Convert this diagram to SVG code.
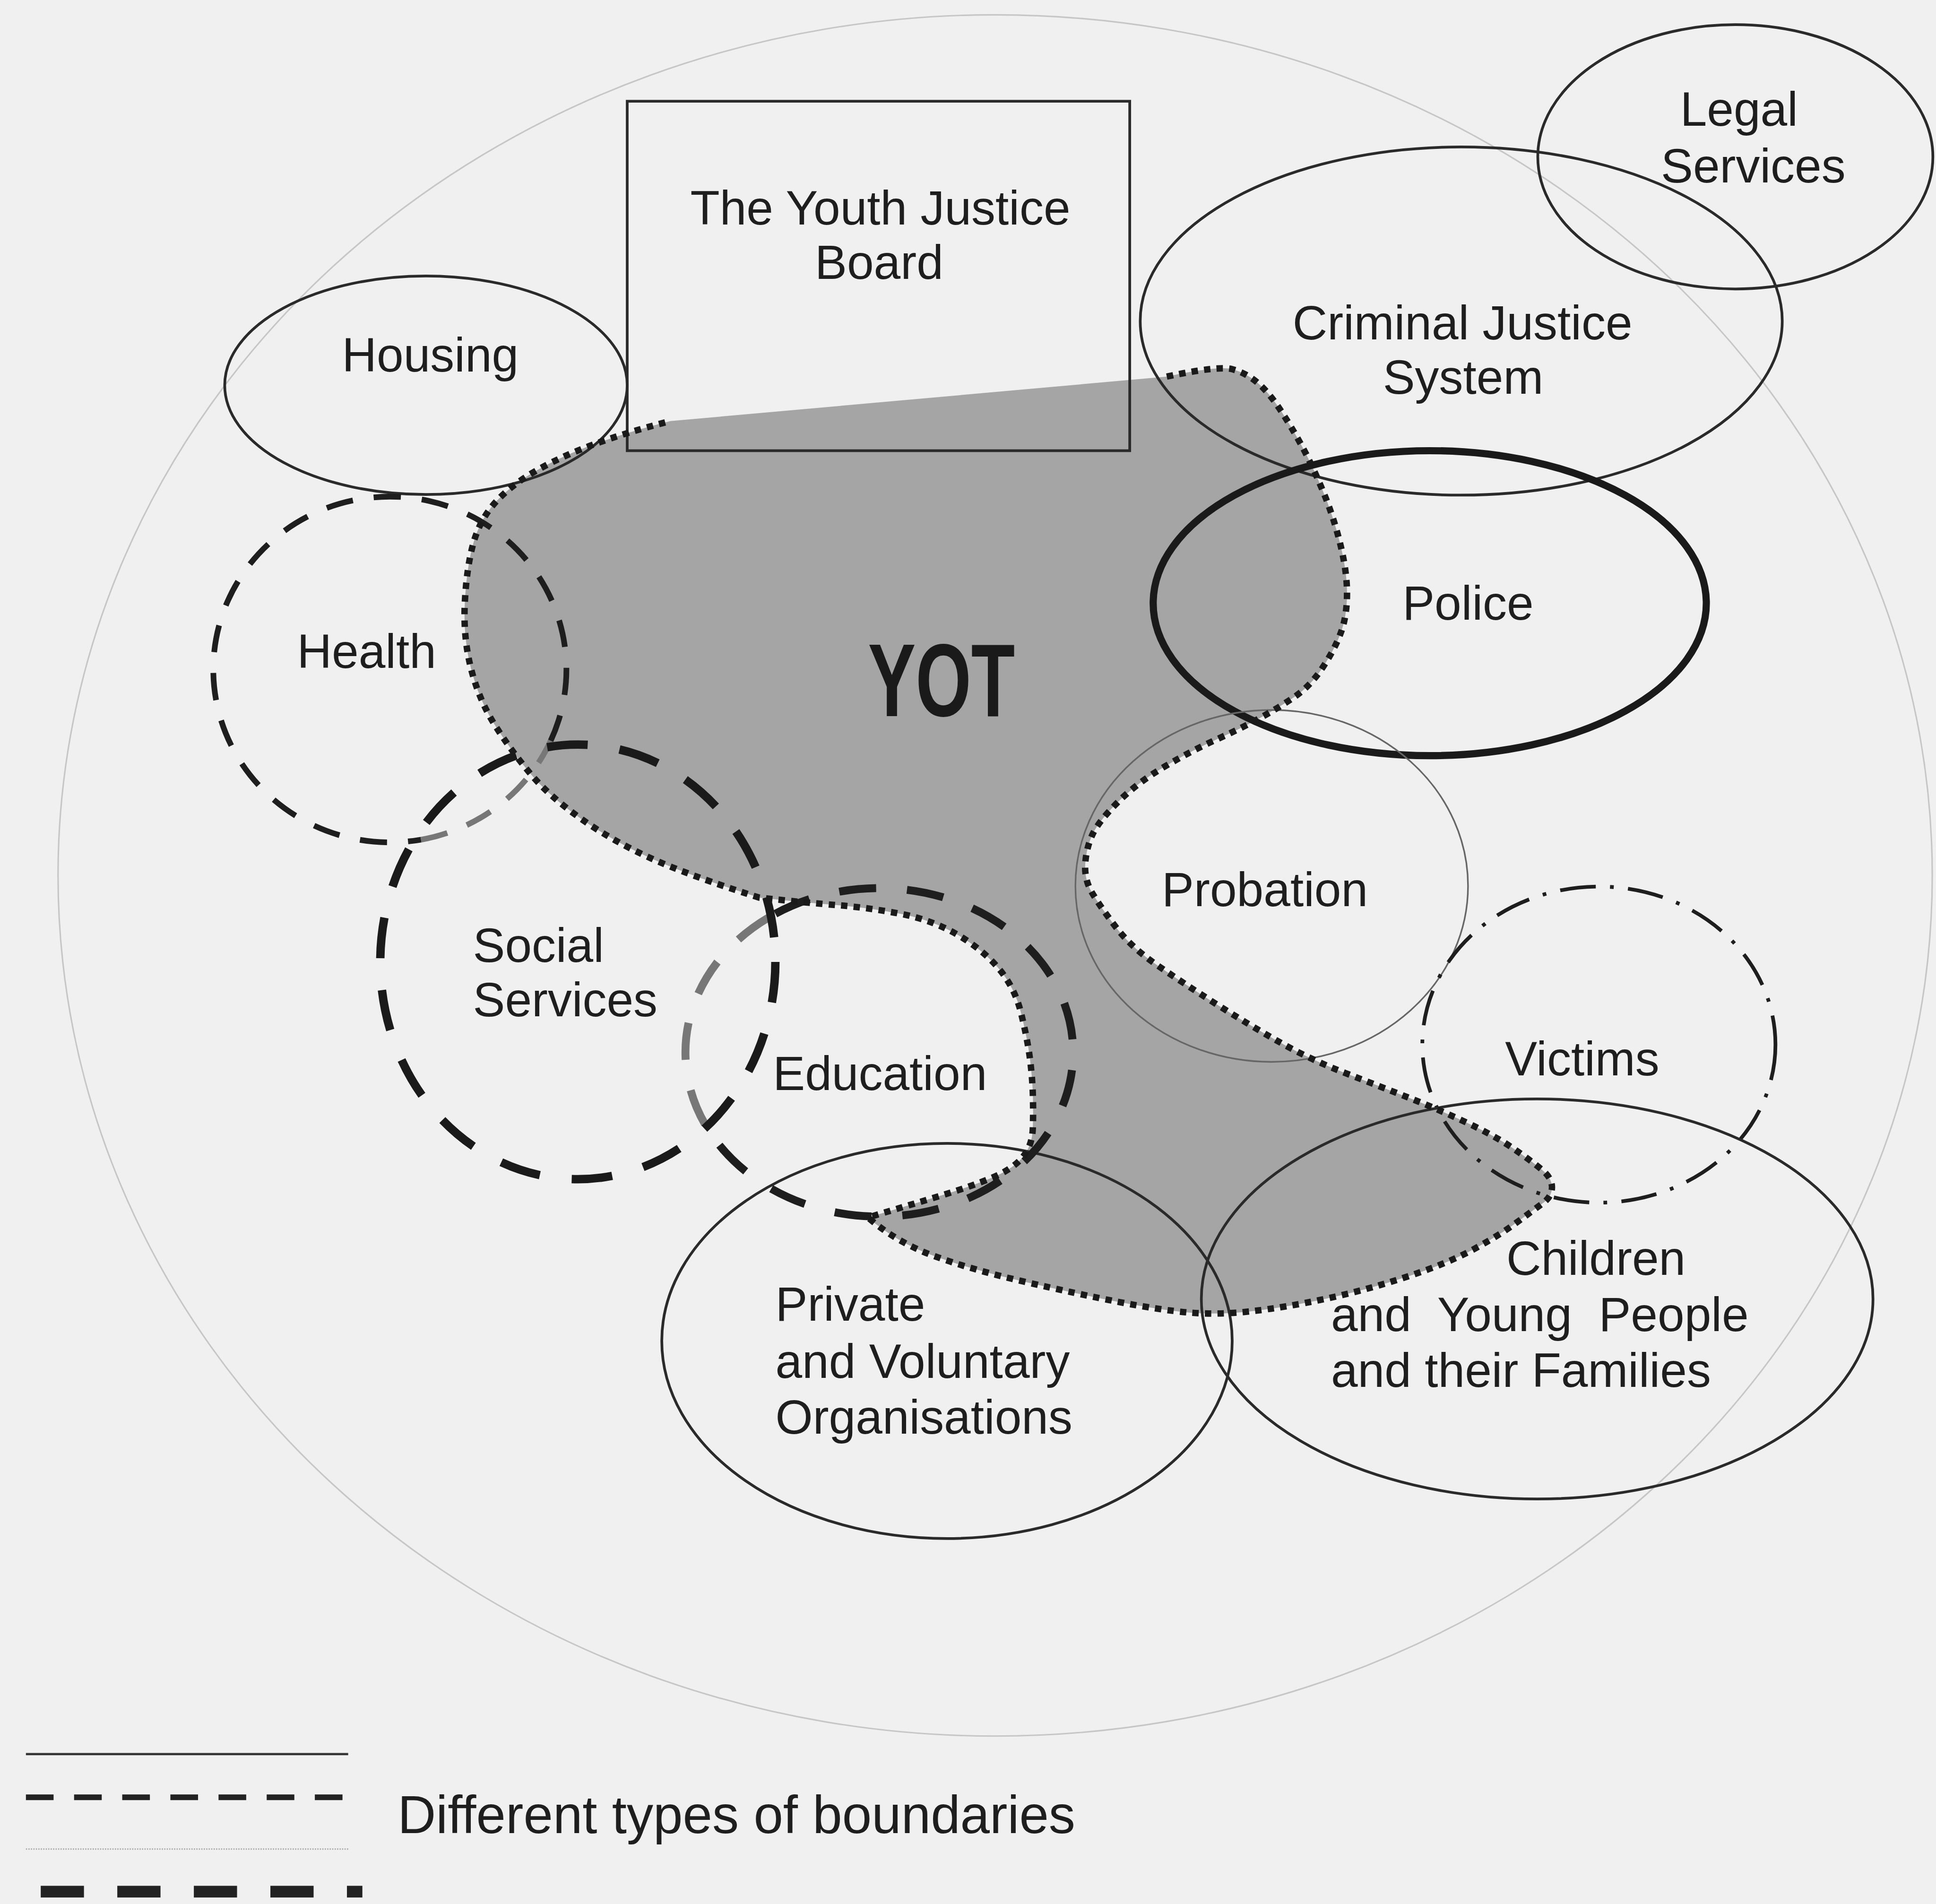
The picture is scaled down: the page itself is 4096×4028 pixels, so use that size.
<svg xmlns="http://www.w3.org/2000/svg" width="4096" height="4028" viewBox="0 0 4096 4028">
<style>
.lbl{font-family:"Liberation Sans",Arial,sans-serif;font-size:39px;fill:#1e1e1e}
.thin{fill:none;stroke:#2a2a2a;stroke-width:2.2}
.hl{fill:none;stroke:#1e1e1e;stroke-width:4.6;stroke-dasharray:22 17}
.hlg{fill:none;stroke:#777;stroke-width:4.6;stroke-dasharray:22 17}
.ss{fill:none;stroke:#1a1a1a;stroke-width:6.8;stroke-dasharray:33 26}
.ed{fill:none;stroke:#1e1e1e;stroke-width:6.4;stroke-dasharray:30 25}
.edg{fill:none;stroke:#777;stroke-width:6.4;stroke-dasharray:30 25}
.dot{fill:none;stroke:#1a1a1a;stroke-width:5.2;stroke-dasharray:5.2 5}
</style>
<rect x="0" y="0" width="4096" height="4028" fill="#f0f0f0"/>
<g transform="scale(2.6122)">
  <ellipse id="outer" cx="806" cy="709" rx="759" ry="697" fill="none" stroke="#c6c6c6" stroke-width="1.2"/>
  <g id="yot-fill">
    <path fill="#a5a5a5" d="M945,305 Q987,296 998,299 Q1009,302 1018,309.5 Q1027,317 1036,330.5 Q1045,344 1053.5,359.5 Q1062,375 1071,396.5 Q1080,418 1085.5,440.5 Q1091,463 1091,480.5 Q1091,498 1086.5,511 Q1082,524 1072,539.5 Q1062,555 1049,564 Q1036,573 1020.5,581.5 Q1005,590 985,599 Q965,608 943,621 Q921,634 905.5,649.5 Q890,665 885,675.5 Q880,686 879,699 Q878,712 884.5,723 Q891,734 903.5,750.5 Q916,767 937,781.5 Q958,796 984,812.5 Q1010,829 1035.5,843.5 Q1061,858 1089.5,869 Q1118,880 1141,889 Q1164,898 1187.5,909 Q1211,920 1225.5,930 Q1240,940 1248.5,947 Q1257,954 1257,961.5 Q1257,969 1249.5,974.5 Q1242,980 1228.5,990 Q1215,1000 1194,1011.5 Q1173,1023 1139.5,1034 Q1106,1045 1073,1052 Q1040,1059 1013,1062 Q986,1065 963,1063 Q940,1061 906.5,1054.5 Q873,1048 829.5,1038 Q786,1028 756,1017 Q726,1006 703,986 Q740,975 763,968 Q786,961 803,954 Q820,947 828,937.5 Q836,928 836.5,914 Q837,900 836.5,885.5 Q836,871 834,856 Q832,841 827,820.5 Q822,800 809,784.5 Q796,769 775.5,757 Q755,745 729,740 Q703,735 677.5,733 Q652,731 615,727 Q558,709 527,695 Q496,681 470.5,663 Q445,645 429.5,626.5 Q414,608 401,587.5 Q388,567 381.5,541.5 Q375,516 376.5,487.5 Q378,459 383.5,439.5 Q389,420 402,406 Q415,392 435.5,380.5 Q456,369 482,359.5 Q508,350 543,341 Z"/>
  </g>
  <g id="node-yjb">
    <rect x="508" y="82" width="407" height="283" class="thin"/>
    <text class="lbl" x="713" y="182" text-anchor="middle">The Youth Justice</text>
    <text class="lbl" x="712" y="226" text-anchor="middle">Board</text>
  </g>
  <g id="node-housing">
    <ellipse cx="345" cy="312" rx="163" ry="88.5" class="thin"/>
    <text class="lbl" x="348.5" y="301" text-anchor="middle">Housing</text>
  </g>
  <g id="node-cjs">
    <ellipse cx="1183.5" cy="260" rx="260" ry="141" class="thin"/>
    <text class="lbl" x="1184.5" y="275" text-anchor="middle">Criminal Justice</text>
    <text class="lbl" x="1185" y="319" text-anchor="middle">System</text>
  </g>
  <g id="node-legal">
    <ellipse cx="1405.5" cy="127" rx="160" ry="107" class="thin"/>
    <text class="lbl" x="1408.5" y="102" text-anchor="middle">Legal</text>
    <text class="lbl" x="1420" y="147.6" text-anchor="middle">Services</text>
  </g>
  <g id="node-police">
    <ellipse cx="1158" cy="488.5" rx="224" ry="123.5" fill="none" stroke="#1a1a1a" stroke-width="5.8"/>
    <text class="lbl" x="1189" y="502" text-anchor="middle">Police</text>
  </g>
  <g id="node-probation">
    <ellipse cx="1030" cy="717.5" rx="159" ry="142.5" fill="none" stroke="#666" stroke-width="1.3"/>
    <text class="lbl" x="941" y="734">Probation</text>
  </g>
  <g id="node-victims">
    <ellipse cx="1295" cy="846" rx="143" ry="128" fill="none" stroke="#1e1e1e" stroke-width="3" stroke-dasharray="29 11.6 3 11.6"/>
    <text class="lbl" x="1219" y="871">Victims</text>
  </g>
  <g id="node-children">
    <ellipse cx="1245" cy="1052" rx="272" ry="162" class="thin"/>
    <text class="lbl" x="1220" y="1032.5">Children</text>
    <text class="lbl" x="1078" y="1078" style="white-space:pre">and  Young  People</text>
    <text class="lbl" x="1078" y="1123">and their Families</text>
  </g>
  <g id="node-private">
    <ellipse cx="767" cy="1086" rx="231" ry="160" class="thin"/>
    <text class="lbl" x="628" y="1069.6">Private</text>
    <text class="lbl" x="628" y="1116">and Voluntary</text>
    <text class="lbl" x="628" y="1161">Organisations</text>
  </g>
  <g id="node-health">
    <path class="hl" d="M446,600 A143,140 0 1 0 341,680"/>
    <path class="hlg" d="M341,680 A143,140 0 0 0 446,600"/>
    <text class="lbl" x="240.6" y="541">Health</text>
  </g>
  <g id="node-education">
    <path class="ed" d="M628,740 A157,133 0 1 1 571,910.5"/>
    <path class="edg" d="M571,910.5 A157,133 0 0 1 628,740"/>
    <text class="lbl" x="626" y="882.7">Education</text>
  </g>
  <g id="node-social">
    <ellipse cx="468" cy="779" rx="160" ry="176" class="ss"/>
    <text class="lbl" x="383" y="779">Social</text>
    <text class="lbl" x="383" y="823">Services</text>
  </g>
  <g id="node-yot">
    <path class="dot" d="M945,305 Q987,296 998,299 Q1009,302 1018,309.5 Q1027,317 1036,330.5 Q1045,344 1053.5,359.5 Q1062,375 1071,396.5 Q1080,418 1085.5,440.5 Q1091,463 1091,480.5 Q1091,498 1086.5,511 Q1082,524 1072,539.5 Q1062,555 1049,564 Q1036,573 1020.5,581.5 Q1005,590 985,599 Q965,608 943,621 Q921,634 905.5,649.5 Q890,665 885,675.5 Q880,686 879,699 Q878,712 884.5,723 Q891,734 903.5,750.5 Q916,767 937,781.5 Q958,796 984,812.5 Q1010,829 1035.5,843.5 Q1061,858 1089.5,869 Q1118,880 1141,889 Q1164,898 1187.5,909 Q1211,920 1225.5,930 Q1240,940 1248.5,947 Q1257,954 1257,961.5 Q1257,969 1249.5,974.5 Q1242,980 1228.5,990 Q1215,1000 1194,1011.5 Q1173,1023 1139.5,1034 Q1106,1045 1073,1052 Q1040,1059 1013,1062 Q986,1065 963,1063 Q940,1061 906.5,1054.5 Q873,1048 829.5,1038 Q786,1028 756,1017 Q726,1006 703,986 Q740,975 763,968 Q786,961 803,954 Q820,947 828,937.5 Q836,928 836.5,914 Q837,900 836.5,885.5 Q836,871 834,856 Q832,841 827,820.5 Q822,800 809,784.5 Q796,769 775.5,757 Q755,745 729,740 Q703,735 677.5,733 Q652,731 615,727 Q558,709 527,695 Q496,681 470.5,663 Q445,645 429.5,626.5 Q414,608 401,587.5 Q388,567 381.5,541.5 Q375,516 376.5,487.5 Q378,459 383.5,439.5 Q389,420 402,406 Q415,392 435.5,380.5 Q456,369 482,359.5 Q508,350 543,341"/>
    <text x="703" y="580" font-family="'Liberation Sans',Arial,sans-serif" font-weight="bold" font-size="84" fill="#1a1a1a" textLength="119" lengthAdjust="spacingAndGlyphs">YOT</text>
  </g>
  <g id="legend">
    <line x1="21" y1="1420.6" x2="282" y2="1420.6" stroke="#333" stroke-width="1.8"/>
    <line x1="21" y1="1455.6" x2="282" y2="1455.6" stroke="#222" stroke-width="4.6" stroke-dasharray="22.4 16.6"/>
    <line x1="21" y1="1497.5" x2="282" y2="1497.5" stroke="#aaa" stroke-width="1.2" stroke-dasharray="1 1"/>
    <line x1="33" y1="1532" x2="293.5" y2="1532" stroke="#222" stroke-width="9.5" stroke-dasharray="35 27"/>
    <text x="322" y="1484.7" font-family="'Liberation Sans',Arial,sans-serif" font-size="43" fill="#1e1e1e">Different types of boundaries</text>
  </g>
</g>
</svg>
